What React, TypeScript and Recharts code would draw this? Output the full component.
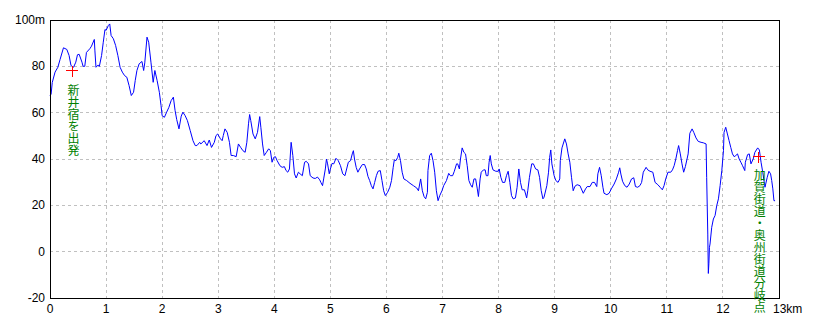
import {
  LineChart,
  Line,
  XAxis,
  YAxis,
  CartesianGrid,
  ReferenceArea,
  ReferenceDot,
} from 'recharts'

// distance along the route (km) and elevation (m)
const distKm = [
  0, 0.02, 0.04, 0.09, 0.14, 0.18, 0.24, 0.3, 0.34, 0.375, 0.42, 0.46, 0.49, 0.52, 0.57, 0.59, 0.62, 0.65, 0.71, 0.74,
  0.79, 0.8, 0.82, 0.86, 0.88, 0.92, 0.95, 0.98, 1.0, 1.04, 1.065, 1.09, 1.13, 1.17, 1.21, 1.25, 1.29, 1.33, 1.37, 1.41,
  1.45, 1.49, 1.52, 1.55, 1.59, 1.64, 1.67, 1.69, 1.73, 1.76, 1.8, 1.84, 1.87, 1.91, 1.95, 1.98, 2.0, 2.04, 2.08, 2.12,
  2.16, 2.2, 2.23, 2.26, 2.3, 2.34, 2.37, 2.41, 2.45, 2.5, 2.55, 2.59, 2.62, 2.67, 2.69, 2.75, 2.8, 2.84, 2.88, 2.93,
  2.96, 2.99, 3.04, 3.07, 3.09, 3.12, 3.16, 3.2, 3.23, 3.27, 3.32, 3.36, 3.4, 3.44, 3.48, 3.51, 3.54, 3.56, 3.58, 3.62,
  3.66, 3.7, 3.74, 3.76, 3.79, 3.82, 3.86, 3.9, 3.93, 3.96, 3.99, 4.02, 4.05, 4.1, 4.14, 4.18, 4.21, 4.24, 4.27, 4.3,
  4.33, 4.36, 4.39, 4.43, 4.46, 4.5, 4.54, 4.57, 4.61, 4.64, 4.69, 4.73, 4.77, 4.81, 4.83, 4.86, 4.88, 4.91, 4.93, 4.95,
  4.98, 5.0, 5.03, 5.06, 5.1, 5.14, 5.18, 5.22, 5.26, 5.29, 5.32, 5.36, 5.39, 5.41, 5.43, 5.46, 5.49, 5.52, 5.57, 5.61,
  5.64, 5.67, 5.7, 5.73, 5.76, 5.79, 5.82, 5.85, 5.89, 5.92, 5.95, 5.98, 6.02, 6.06, 6.09, 6.12, 6.14, 6.17, 6.2, 6.22,
  6.25, 6.28, 6.31, 6.36, 6.42, 6.48, 6.54, 6.57, 6.61, 6.64, 6.67, 6.7, 6.73, 6.74, 6.77, 6.8, 6.83, 6.86, 6.89, 6.92,
  6.95, 6.99, 7.02, 7.07, 7.11, 7.14, 7.18, 7.21, 7.25, 7.27, 7.3, 7.32, 7.35, 7.38, 7.41, 7.44, 7.47, 7.5, 7.53, 7.56,
  7.59, 7.62, 7.64, 7.67, 7.69, 7.73, 7.76, 7.78, 7.81, 7.83, 7.85, 7.87, 7.9, 7.95, 7.99, 8.01, 8.04, 8.07, 8.11, 8.14,
  8.17, 8.2, 8.23, 8.26, 8.3, 8.33, 8.36, 8.39, 8.42, 8.46, 8.5, 8.52, 8.55, 8.59, 8.62, 8.66, 8.7, 8.73, 8.76, 8.79,
  8.81, 8.86, 8.89, 8.91, 8.93, 8.95, 8.99, 9.02, 9.06, 9.09, 9.1, 9.13, 9.18, 9.21, 9.24, 9.27, 9.3, 9.33, 9.36, 9.4,
  9.45, 9.51, 9.55, 9.58, 9.63, 9.67, 9.71, 9.75, 9.77, 9.8, 9.83, 9.86, 9.88, 9.93, 9.97, 10.01, 10.06, 10.1, 10.14, 10.16,
  10.18, 10.21, 10.25, 10.29, 10.33, 10.37, 10.41, 10.44, 10.48, 10.52, 10.55, 10.58, 10.63, 10.66, 10.7, 10.75, 10.79, 10.84, 10.88, 10.92,
  10.95, 10.98, 11.02, 11.07, 11.1, 11.13, 11.16, 11.19, 11.21, 11.24, 11.27, 11.3, 11.33, 11.36, 11.38, 11.41, 11.45, 11.48, 11.52, 11.56,
  11.61, 11.65, 11.7, 11.71, 11.73, 11.74, 11.75, 11.76, 11.77, 11.8, 11.83, 11.86, 11.89, 11.92, 11.95, 11.98, 12.01, 12.02, 12.05, 12.08,
  12.11, 12.14, 12.17, 12.2, 12.23, 12.26, 12.29, 12.32, 12.35, 12.39, 12.4, 12.44, 12.47, 12.5, 12.54, 12.57, 12.62, 12.65, 12.68, 12.71,
  12.75, 12.79, 12.82, 12.85, 12.87, 12.89, 12.91, 12.93,
]

const elevM = [
  67.4, 68, 73, 77.5, 79.6, 83, 88, 87.3, 84.7, 80.3, 79.6, 81.8, 85, 85.2, 81.8, 80, 80, 86, 87.6, 88.7,
  91.6, 87, 79.6, 80.6, 80, 84.7, 90.4, 95.9, 95.5, 97.6, 98.3, 93.3, 91.9, 89, 84.7, 79.6, 77.5, 76, 75.3, 71.7,
  67.4, 68.8, 73.9, 78.2, 81.1, 82.1, 78.2, 81.5, 92.6, 90.4, 81.8, 73.1, 78.2, 73.9, 68.8, 63.1, 58.7, 58, 60.2, 62.3,
  65.2, 66.7, 61, 57, 53, 58.5, 60.2, 58.7, 56.6, 52.3, 47.9, 45.8, 45.8, 47.2, 46.5, 47.9, 45.8, 48.2, 45, 47.2,
  50.1, 50.8, 48.7, 47.9, 50.1, 53, 51.5, 47.2, 41.5, 41.5, 41, 46.5, 45, 43.6, 42.9, 47.2, 55.2, 59.2, 56.6, 50.8,
  48.7, 51.5, 58.3, 53.7, 46.5, 41.5, 42.9, 44.4, 43.6, 38.6, 40.7, 41, 39.3, 37.1, 36.4, 36.7, 35, 34.3, 35.7, 47.2,
  41.5, 33.6, 31.8, 34.3, 33.6, 32.8, 38.6, 39, 37.9, 32.8, 31.8, 31.6, 32.2, 31, 29.9, 28.5, 31.4, 35.7, 40, 37.9,
  33.6, 35.7, 38.1, 37.9, 40.3, 39.3, 37.1, 33.6, 32.8, 35.7, 38.6, 39.3, 42.2, 43.6, 40, 36.4, 34.3, 35.7, 37.6, 37.6,
  35.7, 32.5, 30.7, 28.5, 27.1, 29.9, 32.8, 34.7, 35, 30.7, 26.3, 24.2, 25.6, 27.8, 30.7, 36.4, 39.6, 39.3, 40.7, 42.5,
  39.3, 34.3, 31.4, 30.7, 29.5, 28.5, 27.5, 26.3, 31.4, 26.3, 23.8, 22.8, 25.6, 35, 41.5, 42.5, 39.3, 34.3, 26.3, 22,
  24.2, 26.3, 28.5, 30.7, 33.8, 32.8, 32.8, 34.7, 37.9, 37.9, 35.7, 40, 44.8, 42.9, 42.2, 37.1, 30.7, 28.9, 27.8, 31.4,
  31.4, 27.1, 23.8, 31.4, 34.3, 35.3, 35.3, 32.8, 32.8, 38.6, 41.5, 37.9, 35.3, 34.7, 34.7, 35.7, 32.1, 29.9, 29.9, 32.8,
  34.7, 29.9, 24.2, 22.8, 23.2, 27.8, 35.7, 29.9, 26.7, 26.7, 23.2, 26.3, 32.1, 37.9, 37.9, 35.7, 35.3, 32.1, 26.3, 22.8,
  23.5, 28.5, 34.3, 40.7, 43.9, 37.9, 32.8, 30.7, 29.9, 31.4, 39.3, 44.8, 48.7, 46.5, 42.2, 38.6, 32.1, 26.3, 28.2, 28.9,
  28.5, 25.2, 27.1, 28.1, 28.1, 29.9, 29.9, 28.1, 33.6, 36.4, 32.8, 27.8, 25.2, 24.6, 25.2, 27.1, 29.2, 31.4, 34.3, 36.2,
  33.5, 30.4, 28.5, 27.8, 29.2, 31.4, 31.9, 28.1, 27.8, 28.5, 29.9, 34.3, 36.4, 35.3, 34.7, 34.3, 29.9, 28.9, 27.8, 26.7,
  28.5, 31.4, 34.3, 34.3, 35.3, 37.1, 40, 43.6, 45.8, 42.2, 37.9, 34.3, 36.7, 40, 42.2, 51.1, 53, 51.5, 49.1, 47.6,
  47.2, 47, 46.5, 32.1, 7.6, -9.4, -5, 1.9, 3.3, 10.5, 14.1, 15.6, 19.9, 22.8, 28.5, 35, 43.6, 51.5, 53.7, 50.8,
  47.9, 45, 42.2, 41, 41.5, 42.2, 40, 38.6, 37.1, 35, 38.6, 41.9, 42.2, 37.9, 40, 42.9, 44.8, 43.9, 38.6, 34.3,
  27.8, 32.1, 34.7, 33.6, 30.7, 27.1, 22, 22,
]

const markerKm = [0.4, 12.64]
const markerElev = [78, 40.9]
const markerLabels = ['新井宿を出発', '加賀街道・奥州街道分岐点']

const xTicks = [0, 1, 2, 3, 4, 5, 6, 7, 8, 9, 10, 11, 12, 13]
const yTicks = [-20, 0, 20, 40, 60, 80, 100]

const data = distKm.map((d, i) => ({ km: d, elev: elevM[i] }))

const font = '"Liberation Sans", sans-serif'

function XTick({ x, y, payload }: any) {
  if (payload.value === 13) {
    return (
      <text x={x - 6} y={y} dy={9} textAnchor="start" fontSize={12} fontFamily={font} fill="#000">
        13km
      </text>
    )
  }
  return (
    <text x={x} y={y} dy={9} textAnchor="middle" fontSize={12} fontFamily={font} fill="#000">
      {payload.value}
    </text>
  )
}

function YTick({ x, y, payload }: any) {
  return (
    <text x={x} y={y} dy={4} textAnchor="end" fontSize={12} fontFamily={font} fill="#000">
      {payload.value === 100 ? '100m' : payload.value}
    </text>
  )
}

// red cross plus a vertical (top-to-bottom) green caption under it
function Marker({ cx, cy, label }: any) {
  return (
    <g>
      <line x1={cx - 6} x2={cx + 6} y1={cy} y2={cy} stroke="#ff0000" strokeWidth={1} shapeRendering="crispEdges" />
      <line x1={cx} x2={cx} y1={cy - 5} y2={cy + 6} stroke="#ff0000" strokeWidth={1} shapeRendering="crispEdges" />
      <text
        x={cx + 1}
        y={cy + 13}
        fontSize={12}
        fill="#008000"
        fontFamily='"Noto Sans CJK JP", sans-serif'
        style={{ writingMode: 'vertical-rl' }}
      >
        {label}
      </text>
    </g>
  )
}

export default function App() {
  return (
    <div style={{ position: 'absolute', left: 0, top: 0, background: '#fff' }}>
      <LineChart width={820} height={328} data={data} margin={{ top: 20, right: 41, left: 0, bottom: 0 }}>
        <CartesianGrid stroke="#c0c0c0" strokeDasharray="3 3" shapeRendering="crispEdges" />
        <XAxis
          dataKey="km"
          type="number"
          domain={[0, 13]}
          ticks={xTicks}
          height={30}
          tickLine={false}
          tickSize={4}
          tickMargin={2}
          axisLine={{ stroke: '#000', shapeRendering: 'crispEdges' }}
          tick={<XTick />}
        />
        <YAxis
          type="number"
          domain={[-20, 100]}
          ticks={yTicks}
          width={50}
          tickLine={false}
          tickSize={3}
          tickMargin={2}
          axisLine={{ stroke: '#000', shapeRendering: 'crispEdges' }}
          tick={<YTick />}
        />
        <Line
          type="linear"
          dataKey="elev"
          stroke="#0000ff"
          strokeWidth={1}
          dot={false}
          activeDot={false}
          isAnimationActive={false}
        />
        {markerKm.map((km, i) => (
          <ReferenceDot
            key={i}
            x={km}
            y={markerElev[i]}
            r={0}
            shape={(p: any) => <Marker cx={p.cx} cy={p.cy} label={markerLabels[i]} />}
          />
        ))}
        <ReferenceArea
          x1={0}
          x2={13}
          y1={-20}
          y2={100}
          fill="none"
          fillOpacity={0}
          stroke="#000"
          strokeWidth={1}
          shapeRendering="crispEdges"
        />
      </LineChart>
    </div>
  )
}
